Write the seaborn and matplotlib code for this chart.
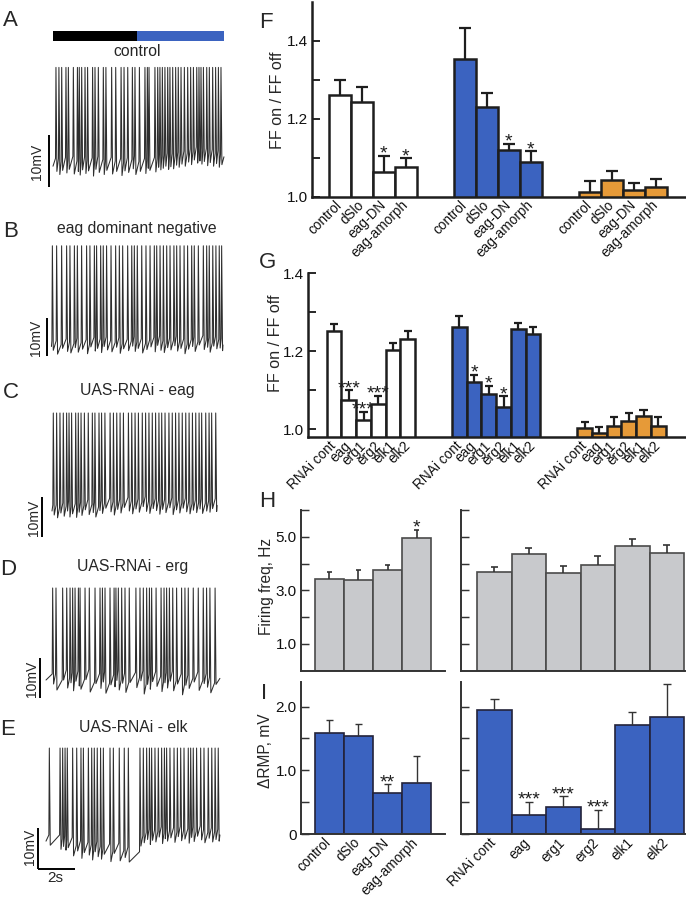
import numpy as np
import pandas as pd
import seaborn as sns
import matplotlib.pyplot as plt
from matplotlib import transforms

sns.set_theme(style='ticks')
plt.rcParams['font.family'] = ['Liberation Sans', 'DejaVu Sans']

# ---------------- data ----------------
# F: FF on / FF off, mutants (no light, blue light, orange light)
ff_labels = ['control', 'dSlo', 'eag-DN', 'eag-amorph']
ff_white = [1.261, 1.244, 1.063, 1.077]
ff_white_err = [0.038, 0.038, 0.041, 0.021]
ff_blue = [1.352, 1.231, 1.121, 1.090]
ff_blue_err = [0.080, 0.034, 0.014, 0.026]
ff_orange = [1.011, 1.042, 1.016, 1.024]
ff_orange_err = [0.029, 0.025, 0.019, 0.022]
ff_white_sig = ['', '', '*', '*']
ff_blue_sig = ['', '', '*', '*']
ff_orange_sig = ['', '', '', '']

# G: FF on / FF off, RNAi lines
rnai_labels = ['RNAi cont', 'eag', 'erg1', 'erg2', 'elk1', 'elk2']
rnai_white = [1.251, 1.076, 1.023, 1.064, 1.202, 1.231]
rnai_white_err = [0.020, 0.024, 0.022, 0.021, 0.020, 0.020]
rnai_blue = [1.262, 1.121, 1.091, 1.058, 1.258, 1.244]
rnai_blue_err = [0.028, 0.019, 0.021, 0.026, 0.014, 0.019]
rnai_orange = [1.003, 0.989, 1.009, 1.022, 1.035, 1.007]
rnai_orange_err = [0.016, 0.017, 0.023, 0.019, 0.015, 0.025]
rnai_white_sig = ['', '***', '***', '***', '', '']
rnai_blue_sig = ['', '*', '*', '*', '', '']
rnai_orange_sig = ['', '', '', '', '', '']

# H: firing frequency, Hz
freq_mut = [3.43, 3.38, 3.75, 4.94]
freq_mut_err = [0.25, 0.37, 0.20, 0.31]
freq_mut_sig = ['', '', '', '*']
freq_rnai = [3.68, 4.34, 3.66, 3.95, 4.65, 4.39]
freq_rnai_err = [0.20, 0.25, 0.26, 0.34, 0.28, 0.30]
freq_rnai_sig = ['', '', '', '', '', '']

# I: delta RMP, mV
rmp_mut = [1.59, 1.53, 0.65, 0.80]
rmp_mut_err = [0.20, 0.20, 0.13, 0.43]
rmp_mut_sig = ['', '', '**', '']
rmp_rnai = [1.94, 0.30, 0.43, 0.08, 1.71, 1.84]
rmp_rnai_err = [0.18, 0.20, 0.16, 0.30, 0.20, 0.52]
rmp_rnai_sig = ['', '***', '***', '***', '', '']

# A-E: spike times (s), post-spike troughs (mV above scale-bar foot), peak (mV)
a_spikes = [0.16, 0.32, 0.47, 0.70, 0.83, 1.10, 1.32, 1.42, 1.55, 1.73,
            1.87, 2.14, 2.27, 2.45, 2.72, 2.86, 3.17, 3.39, 3.68, 3.84,
            4.04, 4.29, 4.43, 4.67, 4.97, 5.10, 5.19, 5.51, 5.66, 5.78,
            5.91, 6.05, 6.20, 6.32, 6.47, 6.63, 6.77, 6.92, 7.10, 7.28,
            7.44, 7.59, 7.77, 7.89, 8.00, 8.13, 8.31, 8.45, 8.63, 8.79,
            8.94, 9.08]
a_troughs = [3.0, 2.4, 3.2, 2.7, 3.4, 2.5, 3.0, 2.3, 3.3, 2.6,
             3.1, 2.1, 3.4, 2.8, 2.4, 3.2, 2.5, 3.0, 2.2, 3.1,
             2.8, 3.5, 2.4, 3.0, 2.6, 3.6, 3.2, 2.9, 3.8, 3.3,
             3.6, 4.0, 3.4, 3.9, 3.5, 4.2, 3.8, 4.4, 4.0, 4.8,
             4.3, 5.2, 4.6, 5.0, 4.4, 4.9, 4.1, 4.7, 4.0, 4.5,
             3.8, 4.3]
b_spikes = [0.02, 0.25, 0.52, 0.79, 0.97, 1.21, 1.37, 1.60, 1.87, 2.05,
            2.29, 2.41, 2.63, 2.77, 2.95, 3.19, 3.44, 3.64, 3.82, 4.09,
            4.31, 4.45, 4.61, 4.85, 5.08, 5.30, 5.53, 5.66, 5.84, 6.02,
            6.20, 6.38, 6.59, 6.74, 6.92, 7.14, 7.33, 7.55, 7.69, 7.91,
            8.18, 8.36, 8.50, 8.69, 8.86, 9.04, 9.17]
b_troughs = [1.5, 0.5, 2.0, 1.2, 0.8, 2.2, 1.0, 1.8, 0.6, 2.4,
             1.3, 2.0, 0.9, 2.5, 1.6, 1.1, 2.3, 0.7, 1.9, 1.4,
             2.6, 1.2, 2.0, 0.8, 1.7, 2.4, 1.1, 2.8, 1.5, 0.9,
             2.2, 1.6, 2.7, 1.3, 2.0, 0.6, 1.8, 2.5, 1.2, 2.9,
             1.7, 2.3, 1.0, 2.6, 1.9, 2.1, 1.4]
c_spikes = [0.07, 0.25, 0.43, 0.61, 0.79, 0.92, 1.06, 1.28, 1.42, 1.57,
            1.75, 1.96, 2.18, 2.32, 2.54, 2.68, 2.86, 3.14, 3.32, 3.50,
            3.68, 3.86, 4.13, 4.31, 4.49, 4.67, 4.88, 5.06, 5.24, 5.42,
            5.60, 5.78, 5.93, 6.11, 6.32, 6.50, 6.68, 6.86, 7.04, 7.23,
            7.41, 7.59, 7.77, 7.95, 8.09, 8.31, 8.49, 8.63, 8.85]
c_troughs = [5.5, 4.8, 6.0, 5.2, 6.5, 5.0, 5.8, 4.9, 6.2, 5.4,
             6.8, 5.6, 6.1, 5.0, 6.6, 5.9, 7.2, 6.3, 5.5, 6.9,
             6.0, 7.4, 6.5, 5.8, 7.0, 6.2, 7.6, 6.4, 5.9, 7.1,
             6.6, 5.7, 6.9, 6.1, 7.3, 5.6, 6.8, 6.0, 7.2, 6.3,
             5.8, 6.7, 6.1, 7.0, 5.9, 6.5, 6.2, 7.1, 6.4]
d_spikes = [0.36, 0.54, 0.90, 1.12, 1.30, 1.44, 1.57, 1.75, 1.84, 2.11,
            2.34, 2.65, 2.92, 3.05, 3.19, 3.46, 3.68, 3.78, 3.91, 4.09,
            4.27, 4.50, 4.86, 5.08, 5.26, 5.44, 5.59, 5.71, 5.95, 6.22,
            6.38, 6.52, 6.67, 6.85, 7.06, 7.33, 7.51, 7.69, 7.96, 8.23,
            8.50, 8.68, 8.86, 9.14]
d_troughs = [3.5, 2.0, 4.5, 2.5, 3.8, 1.8, 4.2, 3.0, 2.2, 4.6,
             1.5, 3.6, 2.4, 4.0, 1.2, 3.3, 2.8, 4.4, 2.0, 3.7,
             1.4, 3.9, 2.6, 4.3, 1.0, 3.4, 2.2, 4.1, 2.9, 1.6,
             3.8, 2.5, 4.2, 1.8, 3.5, 0.8, 3.2, 2.4, 4.0, 1.9,
             3.6, 2.7, 1.3, 3.4]
e_spikes = [0.18, 0.76, 0.90, 1.03, 1.15, 1.44, 1.66, 1.89, 2.02, 2.29,
            2.47, 2.61, 2.77, 2.95, 3.10, 3.46, 3.64, 3.96, 4.23, 4.45,
            5.08, 5.26, 5.44, 5.59, 5.71, 5.89, 6.07, 6.25, 6.40, 6.52,
            6.70, 6.92, 7.10, 7.28, 7.46, 7.69, 7.82, 7.96, 8.14, 8.36,
            8.54, 8.77, 8.96, 9.14, 9.31]
e_troughs = [5.8, 4.8, 5.5, 4.6, 5.2, 3.2, 4.4, 2.6, 4.0, 3.4,
             2.2, 4.2, 3.0, 2.4, 3.6, 1.8, 3.8, 2.0, 2.8, 1.7,
             5.6, 6.4, 7.2, 6.0, 7.0, 6.6, 7.8, 6.2, 7.4, 6.8,
             7.6, 6.5, 7.9, 6.9, 7.3, 6.3, 7.7, 6.7, 8.0, 7.1,
             6.4, 7.5, 6.6, 7.2, 6.8]
trace_titles = ['control', 'eag dominant negative', 'UAS-RNAi - eag',
                'UAS-RNAi - erg', 'UAS-RNAi - elk']
trace_peaks = [23.0, 29.0, 31.0, 27.5, 29.5]
trace_durations = [9.24, 9.24, 8.92, 9.40, 9.40]
light_on = 4.55  # s, blue light onset in A

BLUE = '#3b63c0'
ORANGE = '#e69a38'
GREY = '#c8c9cc'
INK = '#1e1e1e'

W, H = 686, 898
fig = plt.figure(figsize=(W / 100, H / 100), dpi=100)
PX_PER_S = 18.5


def add_box(l, t, r, b):
    return fig.add_axes([l / W, 1 - b / H, (r - l) / W, (b - t) / H])


def ftext(x, y, s, **kw):
    fig.text(x / W, 1 - y / H, s, **kw)


def trace_xy(times, troughs, peak, dur):
    assert len(times) == len(troughs)
    xs = [min(0.0, times[0] - 0.05)]
    ys = [troughs[0] + 1.0]
    prev = troughs[0]
    for t, lo in zip(times, troughs):
        xs += [t - 0.025, t, t + 0.05]
        ys += [prev + 2.5, peak, lo]
        prev = lo
    xs.append(dur)
    ys.append(prev + 1.5)
    return xs, ys


def err_bars(ax, x, vals, errs, cap, lw, color):
    x = np.asarray(x, float)
    vals = np.asarray(vals)
    top = vals + np.asarray(errs)
    ax.vlines(x, vals, top, color=color, lw=lw, zorder=4)
    ax.hlines(top, x - cap, x + cap, color=color, lw=lw, zorder=4)
    return top


def stars(ax, x, tops, sigs, size=14):
    for xi, ti, s in zip(x, tops, sigs):
        if s:
            ax.annotate(s, (xi, ti), xytext=(0, -2), textcoords='offset points',
                        ha='center', va='baseline', fontsize=size, color=INK)


def style_axes(ax, lw, color):
    sns.despine(ax=ax)
    for sp in ('left', 'bottom'):
        ax.spines[sp].set_linewidth(lw)
        ax.spines[sp].set_color(color)
    ax.tick_params(axis='y', which='both', direction='in', length=6, width=lw * 0.75,
                   color=color, labelsize=11, pad=3, labelcolor='#111')
    ax.tick_params(axis='x', which='both', length=0, labelsize=9.8, pad=1, labelcolor='#111')
    ax.set_xlabel('')
    ax.set_ylabel('')


def rotate_labels(ax, shift_px=5):
    off = transforms.ScaledTranslation(shift_px / 100, 0, fig.dpi_scale_trans)
    for lab in ax.get_xticklabels():
        lab.set_rotation(45)
        lab.set_ha('right')
        lab.set_va('top')
        lab.set_transform(lab.get_transform() + off)


# ---------------- A-E voltage traces ----------------
traces = [(a_spikes, a_troughs), (b_spikes, b_troughs), (c_spikes, c_troughs),
          (d_spikes, d_troughs), (e_spikes, e_troughs)]
# x0: trace start px, y0: scale bar foot px, s: px per mV, bx: scale bar px
geo = [dict(x0=53, y0=187, s=5.2, bx=49, title=(137, 52), lab=(37, 162)),
       dict(x0=52, y0=356, s=3.8, bx=47, title=(137, 229), lab=(36, 338)),
       dict(x0=52, y0=537, s=4.0, bx=42, title=(137, 390), lab=(34, 518)),
       dict(x0=46, y0=698, s=4.0, bx=40, title=(133, 567), lab=(32, 679)),
       dict(x0=46, y0=869, s=4.1, bx=38, title=(133, 727), lab=(30, 847))]

for k, ((sp, tr), g) in enumerate(zip(traces, geo)):
    top_px = g['y0'] - 36 * g['s']
    bot_px = g['y0'] + 4
    ax = add_box(0, top_px, 250, bot_px)
    ax.axis('off')
    ax.set_xlim((0 - g['x0']) / PX_PER_S, (250 - g['x0']) / PX_PER_S)
    ax.set_ylim((g['y0'] - bot_px) / g['s'], 36)
    xs, ys = trace_xy(sp, tr, trace_peaks[k], trace_durations[k])
    ax.plot(xs, ys, color='#2e2e2e', lw=0.75)
    tb = (g['bx'] - g['x0']) / PX_PER_S
    ax.plot([tb, tb], [0, 10], color='black', lw=1.4, solid_capstyle='butt')
    if k == 4:
        ax.plot([tb, tb + 2], [0, 0], color='black', lw=1.4, solid_capstyle='butt')
        ftext(55, 878, '2s', fontsize=11, ha='center', va='center')
    if k == 0:
        ybar = (g['y0'] - 36) / g['s']
        ax.plot([0, light_on], [ybar, ybar], color='black', lw=7.2, solid_capstyle='butt')
        ax.plot([light_on, trace_durations[0]], [ybar, ybar], color=BLUE, lw=7.2,
                solid_capstyle='butt')
    ftext(*g['title'], trace_titles[k], fontsize=11.3, ha='center', va='center')
    ftext(*g['lab'], '10mV', fontsize=10, rotation=90, ha='center', va='center')

for letter, (x, y) in zip('ABCDE', [(3, 26), (3, 237), (3, 398), (0, 575), (0, 735)]):
    ftext(x, y, letter, fontsize=16, va='baseline')


# ---------------- F, G grouped bars ----------------
def grouped_panel(ax, labels, groups, errs, sigs, gap, cap):
    rows = []
    names = ['dark', 'blue', 'orange']
    for gi, (vals, ee) in enumerate(zip(groups, errs)):
        for i, (lab, v, e) in enumerate(zip(labels, vals, ee)):
            rows.append({'pos': gi * gap + i, 'value': v, 'err': e,
                         'light': names[gi], 'label': lab})
    df = pd.DataFrame(rows)
    sns.barplot(data=df, x='pos', y='value', hue='light', orient='x',
                palette={'dark': 'white', 'blue': BLUE, 'orange': ORANGE},
                native_scale=True, dodge=False, width=1.0, saturation=1,
                edgecolor=INK, linewidth=1.8, errorbar=None, legend=False, ax=ax)
    tops = err_bars(ax, df['pos'], df['value'], df['err'], cap, 1.6, INK)
    stars(ax, df['pos'], tops, sum(sigs, []))
    ax.set_xticks(df['pos'], df['label'])
    style_axes(ax, 1.8, INK)
    rotate_labels(ax)


axF = add_box(312, 1.7, 685, 196.7)
grouped_panel(axF, ff_labels, [ff_white, ff_blue, ff_orange],
              [ff_white_err, ff_blue_err, ff_orange_err],
              [ff_white_sig, ff_blue_sig, ff_orange_sig], 5.68, 0.27)
axF.set_xlim(-1.27, 15.68)
axF.set_ylim(1.0, 1.5)
axF.set_yticks([1.0, 1.2, 1.4], ['1.0', '1.2', '1.4'])
axF.set_yticks([1.1, 1.3], minor=True)

axG = add_box(308, 273.3, 685, 437)
grouped_panel(axG, rnai_labels, [rnai_white, rnai_blue, rnai_orange],
              [rnai_white_err, rnai_blue_err, rnai_orange_err],
              [rnai_white_sig, rnai_blue_sig, rnai_orange_sig], 8.5, 0.28)
axG.set_xlim(-1.77, 23.81)
axG.set_ylim(0.98, 1.4)
axG.set_yticks([1.0, 1.2, 1.4], ['1.0', '1.2', '1.4'])
axG.set_yticks([1.1, 1.3], minor=True)


# ---------------- H, I simple bars ----------------
def simple_panel(ax, labels, vals, errs, sigs, color, edge, cap, elw):
    sns.barplot(x=labels, y=vals, color=color, saturation=1, width=1.0,
                edgecolor=edge, linewidth=1.2, errorbar=None, ax=ax)
    x = np.arange(len(labels))
    tops = err_bars(ax, x, vals, errs, cap, elw, '#333333')
    stars(ax, x, tops, sigs)
    style_axes(ax, 1.4, '#333333')


axH1 = add_box(301, 510, 445, 670.7)
simple_panel(axH1, ff_labels, freq_mut, freq_mut_err, freq_mut_sig, GREY, '#4a4a4a', 0.1, 1.2)
axH2 = add_box(460.7, 510, 685, 670.7)
simple_panel(axH2, rnai_labels, freq_rnai, freq_rnai_err, freq_rnai_sig, GREY, '#4a4a4a', 0.1, 1.2)
for ax, lab in ((axH1, True), (axH2, False)):
    ax.set_ylim(0, 6)
    ax.set_yticks([1, 3, 5], ['1.0', '3.0', '5.0'] if lab else [])
    ax.set_yticks([2, 4, 6], minor=True)
    ax.set_xticks([])
axH1.set_xlim(-0.98, 3.98)
axH2.set_xlim(-0.98, 5.53)

axI1 = add_box(301, 682.3, 445, 834)
simple_panel(axI1, ff_labels, rmp_mut, rmp_mut_err, rmp_mut_sig, BLUE, '#23233a', 0.12, 1.0)
axI2 = add_box(460.7, 682.3, 685, 834)
simple_panel(axI2, rnai_labels, rmp_rnai, rmp_rnai_err, rmp_rnai_sig, BLUE, '#23233a', 0.12, 1.0)
for ax, lab, n in ((axI1, True, ff_labels), (axI2, False, rnai_labels)):
    ax.set_ylim(0, 2.38)
    ax.set_yticks([0, 1, 2], ['0', '1.0', '2.0'] if lab else [])
    ax.set_yticks([0.5, 1.5], minor=True)
    ax.set_xticks(range(len(n)), n)
    rotate_labels(ax, shift_px=4)
axI1.set_xlim(-0.98, 3.98)
axI2.set_xlim(-0.98, 5.53)

# y labels and panel letters
ftext(277, 100, 'FF on / FF off', fontsize=11.6, rotation=90, ha='center', va='center')
ftext(275, 343, 'FF on / FF off', fontsize=11.6, rotation=90, ha='center', va='center')
ftext(267, 586, 'Firing freq, Hz', fontsize=11.2, rotation=90, ha='center', va='center')
ftext(266, 751, '\u0394RMP, mV', fontsize=11.2, rotation=90, ha='center', va='center')
for letter, (x, y) in zip('FGHI', [(259, 28), (259, 268), (259, 507), (261, 699)]):
    ftext(x, y, letter, fontsize=16, va='baseline')

fig.savefig('out.png', dpi=100)
